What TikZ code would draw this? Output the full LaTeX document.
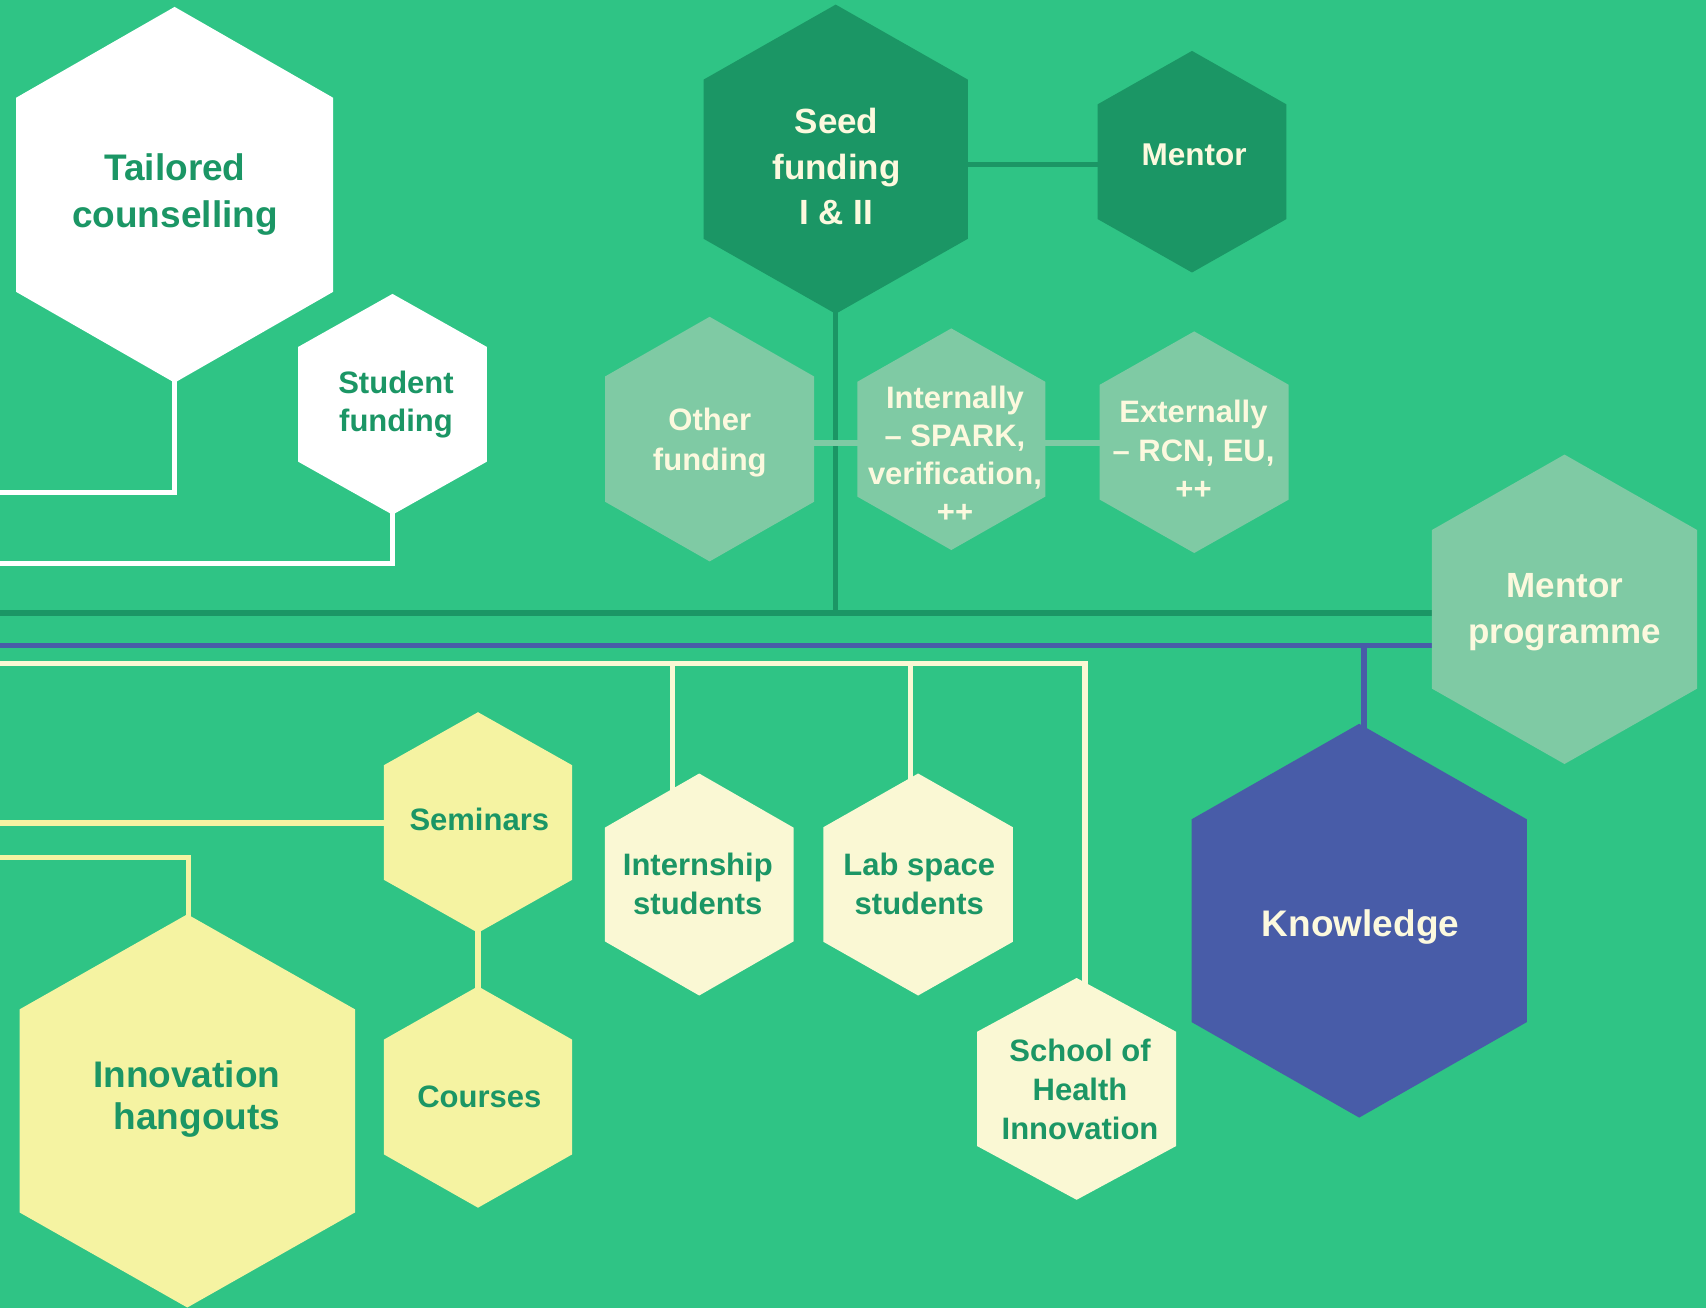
\documentclass[tikz,border=0pt]{standalone}
\usepackage{fontspec}
\setmainfont{Liberation Sans}
\usetikzlibrary{calc}
\pgfdeclarelayer{back}
\pgfdeclarelayer{lines}
\pgfsetlayers{back,lines,main}
\definecolor{bggreen}{RGB}{47,196,133}
\definecolor{dkgreen}{RGB}{27,150,101}
\definecolor{lgreen}{RGB}{127,202,164}
\definecolor{yell}{RGB}{245,243,162}
\definecolor{pale}{RGB}{250,248,212}
\definecolor{kblue}{RGB}{72,92,168}
\definecolor{cream}{RGB}{252,249,222}
\newcommand{\hexa}[7]{%
  \coordinate (#1-c) at (#2,#3);
  \coordinate (#1-t) at (#2,#3-#5);
  \coordinate (#1-b) at (#2,#3+#5);
  \fill[#7] (#2-#4,#3-#6) -- (#1-t) -- (#2+#4,#3-#6) -- (#2+#4,#3+#6) -- (#1-b) -- (#2-#4,#3+#6) -- cycle;
}
\tikzset{
  lbl/.style={align=center, inner sep=0pt},
  fs/.style 2 args={font={\fontsize{#1}{#2}\selectfont\bfseries}},
  dk/.style={text=dkgreen},
  cr/.style={text=cream},
  wire/.style={line width=5.5pt},
}
\begin{document}
\begin{tikzpicture}[x=1pt,y=-1pt]
\useasboundingbox (0,0) rectangle (1706,1308);
\begin{pgfonlayer}{back}
\fill[bggreen] (0,0) rectangle (1706,1308);
\end{pgfonlayer}

% hexagons
\hexa{tc}{174.6}{194.8}{158.6}{187.9}{97}{white}
\hexa{sf}{392.5}{404.3}{94.3}{110.4}{57.4}{white}
\hexa{seed}{835.7}{159.2}{132.1}{154.6}{79.6}{dkgreen}
\hexa{mentor}{1192}{161.7}{94.3}{110.8}{57.4}{dkgreen}
\hexa{of}{709.6}{439.1}{104.4}{122.3}{62.7}{lgreen}
\hexa{int}{951.3}{439.2}{94}{110.8}{57.4}{lgreen}
\hexa{ext}{1194.2}{442.2}{94.5}{110.8}{57.4}{lgreen}
\hexa{mp}{1564.5}{609.3}{132.6}{154.7}{79.3}{lgreen}
\hexa{kn}{1359.2}{920.7}{167.6}{196.9}{101.4}{kblue}
\hexa{sem}{478}{822.5}{94.1}{110.3}{57.3}{yell}
\hexa{co}{478}{1097}{94.1}{110.7}{57.4}{yell}
\hexa{ih}{187.3}{1110.9}{167.8}{196.6}{101.5}{yell}
\hexa{is}{699.2}{884.5}{94.3}{111}{56.9}{pale}
\hexa{ls}{918.1}{884.5}{94.7}{111}{57.3}{pale}
\hexa{shi}{1076.6}{1088.9}{99.4}{110.9}{57.2}{pale}

% labels
\node[lbl,dk,fs={37}{46.5}] (tc) at (175,194.5) {Tailored\\counselling};
\node[lbl,dk,fs={31}{38}] (sf) at (396,404.5) {Student\\funding};
\node[lbl,cr,fs={35}{45.5}] (seed) at (836.5,166.5) {Seed\\funding\\I \& II};
\node[lbl,cr,fs={31.5}{38}] (mentor) at (1194,154.5) {Mentor};
\node[lbl,cr,fs={31}{39.5}] (of) at (709.8,442.5) {Other\\funding};
\node[lbl,cr,fs={31}{38}] (int) at (955,454) {Internally\\– SPARK,\\verification,\\++};
\node[lbl,cr,fs={31}{38.3}] (ext) at (1193.5,450) {Externally\\– RCN, EU,\\++};
\node[lbl,cr,fs={35}{45.5}] (mp) at (1564.7,612.3) {Mentor\\programme};
\node[lbl,cr,fs={37}{45}] (kn) at (1360.6,927.3) {Knowledge};
\node[lbl,dk,fs={31}{38}] (sem) at (479.3,819.5) {Seminars};
\node[lbl,dk,fs={31}{38}] (co) at (479.3,1096.8) {Courses};
\node[lbl,dk,fs={37}{42},align=right,anchor=east] (ih) at (280.5,1099) {Innovation\\hangouts};
\node[lbl,dk,fs={31}{39}] (is) at (697.8,883.5) {Internship\\students};
\node[lbl,dk,fs={31}{39}] (ls) at (919.3,883.5) {Lab space\\students};
\node[lbl,dk,fs={31}{39}] (shi) at (1080,1089) {School of\\Health\\Innovation};

% connectors
\begin{pgfonlayer}{lines}
\coordinate (wl1) at (0,492.5);
\draw[wire,white] (tc-c) -- (tc-b) |- (wl1);
\coordinate (wl2) at (0,563.7);
\draw[wire,white] (sf-c) -- (sf-b) |- (wl2);
\coordinate (dl) at (0,613);
\draw[wire,dkgreen] (dl) -- (dl -| mp-c);
\draw[wire,dkgreen] (seed-c) -- (seed-c |- dl);
\coordinate (sm) at ([yshift=-5.4pt]seed-c);
\draw[wire,dkgreen] (sm) -- (sm -| mentor-c);
\coordinate (gl) at ([yshift=-3.7pt]of-c);
\draw[wire,lgreen] (gl) -- (gl -| ext-c);
\coordinate (bl) at (0,645.3);
\draw[wire,kblue] (bl) -- (bl -| mp-c);
\coordinate (bj) at (1364.2,645.3);
\draw[wire,kblue] (bj) -- (bj |- kn-c);
\coordinate (pl) at (0,663.6);
\coordinate (pc) at (1085,663.6);
\draw[wire,pale] (pl) -- (pc) -- (pc |- shi-c);
\coordinate (pb1) at (672.6,663.6);
\draw[wire,pale] (pb1) -- (pb1 |- is-c);
\coordinate (pb2) at (910.7,663.6);
\draw[wire,pale] (pb2) -- (pb2 |- ls-c);
\coordinate (yl) at (0,822.8);
\draw[wire,yell] (yl) -- (yl -| sem-c);
\coordinate (yl2) at (0,857.6);
\coordinate (yk) at (188.3,857.6);
\draw[wire,yell] (yl2) -- (yk) -- (yk |- ih-c);
\draw[wire,yell] (sem-c) -- (co-c);
\end{pgfonlayer}
\end{tikzpicture}
\end{document}
